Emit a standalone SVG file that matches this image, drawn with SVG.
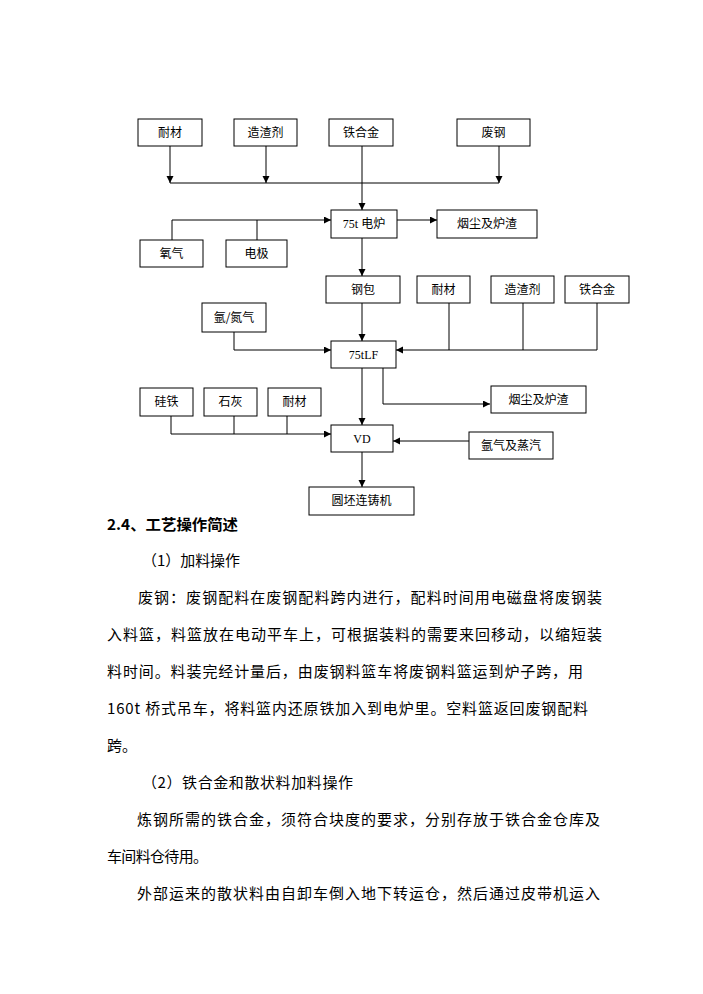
<svg xmlns="http://www.w3.org/2000/svg" width="703" height="994" viewBox="0 0 703 994">
<style>
.box{fill:#fff;stroke:#000;stroke-width:1}
.lbl{font-family:"Noto Sans CJK SC","Liberation Sans",sans-serif;font-size:12px;fill:#000;text-anchor:middle}
.ser{font-family:"Liberation Serif","Noto Sans CJK SC",serif;font-size:12px;fill:#000;text-anchor:middle}
.cn{fill:none;stroke:#000;stroke-width:1}
.body{font-family:"Noto Sans CJK SC","Liberation Sans",sans-serif;font-size:15px;fill:#000}
.head{font-family:"Noto Sans CJK SC","Liberation Sans",sans-serif;font-size:15px;font-weight:bold;fill:#000}
</style>
<defs>
<marker id="ah" markerWidth="8" markerHeight="8" refX="7" refY="3.5" orient="auto" markerUnits="userSpaceOnUse">
<path d="M0,0 L7,3.5 L0,7 Z" fill="#000"/>
</marker>
</defs>
<rect width="703" height="994" fill="#fff"/>
<g id="connectors">
<path class="cn" d="M170,146 V183" marker-end="url(#ah)"/>
<path class="cn" d="M266,146 V183" marker-end="url(#ah)"/>
<path class="cn" d="M499,146 V183" marker-end="url(#ah)"/>
<path class="cn" d="M170,183 H499"/>
<path class="cn" d="M362,146 V210" marker-end="url(#ah)"/>
<path class="cn" d="M172,240 V220 H331" marker-end="url(#ah)"/>
<path class="cn" d="M257,240 V220"/>
<path class="cn" d="M397,220 H437" marker-end="url(#ah)"/>
<path class="cn" d="M362,238 V276" marker-end="url(#ah)"/>
<path class="cn" d="M362,303 V341" marker-end="url(#ah)"/>
<path class="cn" d="M234,332 V350 H331" marker-end="url(#ah)"/>
<path class="cn" d="M597,303 V350 H396" marker-end="url(#ah)"/>
<path class="cn" d="M523,303 V350"/>
<path class="cn" d="M449,303 V350"/>
<path class="cn" d="M362,368 V425" marker-end="url(#ah)"/>
<path class="cn" d="M383,368 V404 H490" marker-end="url(#ah)"/>
<path class="cn" d="M171,416 V434 H331" marker-end="url(#ah)"/>
<path class="cn" d="M234,416 V434"/>
<path class="cn" d="M287,416 V434"/>
<path class="cn" d="M469,441 H393" marker-end="url(#ah)"/>
<path class="cn" d="M362,452 V487" marker-end="url(#ah)"/>
</g>
<g id="n-naicai1"><rect class="box" x="138" y="119" width="64" height="27"/><text class="lbl" x="170" y="137">耐材</text></g>
<g id="n-zaozhaji1"><rect class="box" x="234" y="119" width="63" height="27"/><text class="lbl" x="265.5" y="137">造渣剂</text></g>
<g id="n-tiehejin1"><rect class="box" x="329" y="119" width="64" height="27"/><text class="lbl" x="361" y="137">铁合金</text></g>
<g id="n-feigang"><rect class="box" x="457" y="119" width="73" height="27"/><text class="lbl" x="493.5" y="137">废钢</text></g>
<g id="n-dianlu"><rect class="box" x="331" y="210" width="66" height="28"/><text class="ser" x="364" y="228">75t 电炉</text></g>
<g id="n-yanchen1"><rect class="box" x="437" y="210" width="100" height="28"/><text class="lbl" x="487" y="228">烟尘及炉渣</text></g>
<g id="n-yangqi"><rect class="box" x="140" y="240" width="63" height="27"/><text class="lbl" x="171.5" y="258">氧气</text></g>
<g id="n-dianji"><rect class="box" x="226" y="240" width="61" height="27"/><text class="lbl" x="256.5" y="258">电极</text></g>
<g id="n-gangbao"><rect class="box" x="326" y="276" width="74" height="27"/><text class="lbl" x="363" y="294">钢包</text></g>
<g id="n-naicai2"><rect class="box" x="417" y="276" width="53" height="27"/><text class="lbl" x="443.5" y="294">耐材</text></g>
<g id="n-zaozhaji2"><rect class="box" x="491" y="276" width="63" height="27"/><text class="lbl" x="522.5" y="294">造渣剂</text></g>
<g id="n-tiehejin2"><rect class="box" x="565" y="276" width="64" height="27"/><text class="lbl" x="597" y="294">铁合金</text></g>
<g id="n-yadanqi"><rect class="box" x="202" y="303" width="64" height="29"/><text class="lbl" x="234" y="322">氩/氮气</text></g>
<g id="n-lf"><rect class="box" x="331" y="341" width="65" height="27"/><text class="ser" x="363.5" y="359">75tLF</text></g>
<g id="n-yanchen2"><rect class="box" x="491" y="386" width="95" height="27"/><text class="lbl" x="538.5" y="404">烟尘及炉渣</text></g>
<g id="n-guitie"><rect class="box" x="140" y="388" width="53" height="28"/><text class="lbl" x="166.5" y="406">硅铁</text></g>
<g id="n-shihui"><rect class="box" x="204" y="388" width="53" height="28"/><text class="lbl" x="230.5" y="406">石灰</text></g>
<g id="n-naicai3"><rect class="box" x="268" y="388" width="53" height="28"/><text class="lbl" x="294.5" y="406">耐材</text></g>
<g id="n-vd"><rect class="box" x="331" y="425" width="62" height="27"/><text class="ser" x="362" y="443">VD</text></g>
<g id="n-yaqizhengqi"><rect class="box" x="469" y="432" width="84" height="27"/><text class="lbl" x="511" y="450">氩气及蒸汽</text></g>
<g id="n-yuanpi"><rect class="box" x="309" y="487" width="105" height="28"/><text class="lbl" x="361.5" y="505">圆坯连铸机</text></g>
<text class="head" x="107" y="530" textLength="131" lengthAdjust="spacingAndGlyphs">2.4、工艺操作简述</text>
<text class="body" x="142" y="566" textLength="98" lengthAdjust="spacingAndGlyphs">（1）加料操作</text>
<text class="body" x="138" y="603" textLength="464" lengthAdjust="spacing">废钢：废钢配料在废钢配料跨内进行，配料时间用电磁盘将废钢装</text>
<text class="body" x="107" y="640" textLength="495" lengthAdjust="spacing">入料篮，料篮放在电动平车上，可根据装料的需要来回移动，以缩短装</text>
<text class="body" x="107" y="677" textLength="476" lengthAdjust="spacing">料时间。料装完经计量后，由废钢料篮车将废钢料篮运到炉子跨，用</text>
<text class="body" x="107" y="714" textLength="481" lengthAdjust="spacing">160t 桥式吊车，将料篮内还原铁加入到电炉里。空料篮返回废钢配料</text>
<text class="body" x="107" y="751">跨。</text>
<text class="body" x="142" y="788" textLength="211" lengthAdjust="spacing">（2）铁合金和散状料加料操作</text>
<text class="body" x="137" y="825" textLength="463" lengthAdjust="spacing">炼钢所需的铁合金，须符合块度的要求，分别存放于铁合金仓库及</text>
<text class="body" x="107" y="862" textLength="101" lengthAdjust="spacing">车间料仓待用。</text>
<text class="body" x="137" y="899" textLength="463" lengthAdjust="spacing">外部运来的散状料由自卸车倒入地下转运仓，然后通过皮带机运入</text>
</svg>
